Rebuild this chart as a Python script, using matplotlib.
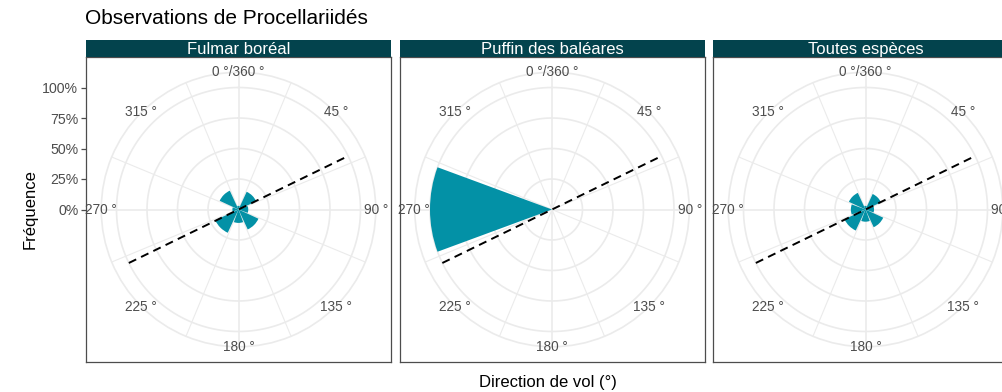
import numpy as np
import matplotlib
matplotlib.use("Agg")
import matplotlib.pyplot as plt

plt.rcParams['font.family'] = ['Liberation Sans', 'DejaVu Sans']

# ---------------- data ----------------
title = "Observations de Procellariidés"
panel_names = ["Fulmar boréal", "Puffin des baléares", "Toutes espèces"]
directions = [0, 45, 90, 135, 180, 225, 270, 315]
freq_fulmar = [0.03, 0.16, 0.08, 0.18, 0.11, 0.21, 0.05, 0.17]
freq_puffin = [0.0, 0.0, 0.0, 0.0, 0.0, 0.0, 1.0, 0.0]
freq_toutes = [0.03, 0.14, 0.07, 0.16, 0.10, 0.19, 0.12, 0.15]
ref_direction = 64  # dashed reference line (degrees)
theta_breaks = [0, 45, 90, 135, 180, 225, 270, 315]
theta_labels = ["0 °/360 °", "45 °", "90 °", "135 °", "180 °", "225 °", "270 °", "315 °"]
r_ticks = [0, 0.25, 0.5, 0.75, 1.0]
r_ticklabels = ["0%", "25%", "50%", "75%", "100%"]
xlabel = "Direction de vol (°)"
ylabel = "Fréquence"

all_freqs = [freq_fulmar, freq_puffin, freq_toutes]

# ---------------- style ----------------
W, H = 1002, 392
BAR = "#0391A6"
STRIP = "#03434D"
GRID = "#EBEBEB"
BORDER = "#4D4D4D"
TXT = "#4D4D4D"

fig = plt.figure(figsize=(W / 100, H / 100), dpi=100)


def rect(x0, y0, x1, y1):
    return [x0 / W, 1 - y1 / H, (x1 - x0) / W, (y1 - y0) / H]


panel_x0 = [86, 399.5, 713]
PW = 305
ptop, pbot = 57, 362
strip_top = 40
rmax = 1.125  # outer circle (0.45 of panel, r=1 at 0.4)

for i, (name, freqs) in enumerate(zip(panel_names, all_freqs)):
    x0 = panel_x0[i]
    # frame axes
    fa = fig.add_axes(rect(x0, ptop, x0 + PW, pbot))
    fa.set_xlim(-1.25, 1.25)
    fa.set_ylim(-1.25, 1.25)
    fa.set_xticks([])
    for s in fa.spines.values():
        s.set_color(BORDER)
        s.set_linewidth(0.9)
    if i == 0:
        fa.set_yticks(r_ticks)
        fa.set_yticklabels(r_ticklabels)
        fa.tick_params(axis='y', length=3.5, width=0.9, color=BORDER,
                       labelcolor=TXT, labelsize=10.2, pad=2)
    else:
        fa.set_yticks([])

    # strip
    sa = fig.add_axes(rect(x0, strip_top, x0 + PW, ptop))
    sa.set_facecolor(STRIP)
    sa.set_xticks([])
    sa.set_yticks([])
    for s in sa.spines.values():
        s.set_visible(False)
    sa.text(0.5, 0.45, name, color="white", fontsize=12, ha="center", va="center",
            transform=sa.transAxes)

    # polar axes
    cx = x0 + PW / 2
    cy = (ptop + pbot) / 2
    R = 0.45 * PW
    pa = fig.add_axes(rect(cx - R, cy - R, cx + R, cy + R), projection="polar")
    pa.set_facecolor("none")
    pa.set_theta_zero_location("N")
    pa.set_theta_direction(-1)
    pa.set_ylim(0, rmax)
    pa.grid(False)
    pa.set_xticks([])
    pa.set_yticks([])
    pa.spines["polar"].set_color(GRID)
    pa.spines["polar"].set_linewidth(1.2)

    tt = np.linspace(0, 2 * np.pi, 361)
    for r in r_ticks[1:]:
        pa.plot(tt, np.full_like(tt, r), color=GRID, lw=1.2, zorder=1)
    for a in [0, 90, 180, 270]:
        pa.plot([np.deg2rad(a)] * 2, [0, rmax], color=GRID, lw=1.2, zorder=1)
    for a in np.arange(22.5, 360, 45):
        pa.plot([np.deg2rad(a)] * 2, [0, rmax], color=GRID, lw=0.8, zorder=1)

    pa.bar(np.deg2rad(directions), freqs, width=np.deg2rad(40.5), color=BAR,
           linewidth=0, zorder=3)

    a1 = np.deg2rad(ref_direction)
    a2 = np.deg2rad(ref_direction + 180)
    pa.plot([a2, a2, a1], [1, 0, 1], color="black", lw=1.4,
            linestyle=(0, (4.2, 2.8)), zorder=4)

    for a, lab in zip(theta_breaks, theta_labels):
        pa.text(np.deg2rad(a), 1.13, lab, ha="center", va="center", color=TXT,
                fontsize=9.8, clip_on=False, zorder=5)

fig.text(85 / W, 1 - 19 / H, title, fontsize=15, ha="left", va="center", color="black")
fig.text(30 / W, 1 - 209.5 / H, ylabel, fontsize=12, rotation=90, ha="center", va="center")
fig.text(548 / W, 1 - 383 / H, xlabel, fontsize=12, ha="center", va="center")

fig.savefig("out.png", dpi=100)
